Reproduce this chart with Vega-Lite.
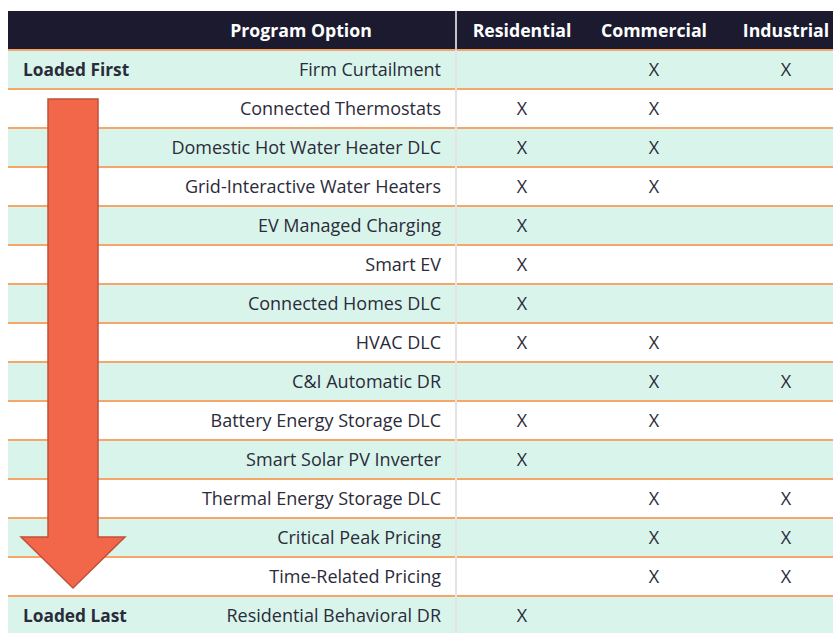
{
  "$schema": "https://vega.github.io/schema/vega-lite/v6.json",
  "width": 825,
  "height": 624,
  "padding": {"left": 8, "top": 11, "right": 0, "bottom": 0},
  "autosize": "none",
  "background": "white",
  "config": {"view": {"stroke": null}, "text": {"font": "Open Sans", "fontSize": 18, "color": "#2b2b3a", "dy": 1.5}},
  "datasets": {
    "rows": [
      {"order": 1, "program": "Firm Curtailment", "label": "Loaded First", "Residential": "", "Commercial": "X", "Industrial": "X"},
      {"order": 2, "program": "Connected Thermostats", "label": "", "Residential": "X", "Commercial": "X", "Industrial": ""},
      {"order": 3, "program": "Domestic Hot Water Heater DLC", "label": "", "Residential": "X", "Commercial": "X", "Industrial": ""},
      {"order": 4, "program": "Grid-Interactive Water Heaters", "label": "", "Residential": "X", "Commercial": "X", "Industrial": ""},
      {"order": 5, "program": "EV Managed Charging", "label": "", "Residential": "X", "Commercial": "", "Industrial": ""},
      {"order": 6, "program": "Smart EV", "label": "", "Residential": "X", "Commercial": "", "Industrial": ""},
      {"order": 7, "program": "Connected Homes DLC", "label": "", "Residential": "X", "Commercial": "", "Industrial": ""},
      {"order": 8, "program": "HVAC DLC", "label": "", "Residential": "X", "Commercial": "X", "Industrial": ""},
      {"order": 9, "program": "C&I Automatic DR", "label": "", "Residential": "", "Commercial": "X", "Industrial": "X"},
      {"order": 10, "program": "Battery Energy Storage DLC", "label": "", "Residential": "X", "Commercial": "X", "Industrial": ""},
      {"order": 11, "program": "Smart Solar PV Inverter", "label": "", "Residential": "X", "Commercial": "", "Industrial": ""},
      {"order": 12, "program": "Thermal Energy Storage DLC", "label": "", "Residential": "", "Commercial": "X", "Industrial": "X"},
      {"order": 13, "program": "Critical Peak Pricing", "label": "", "Residential": "", "Commercial": "X", "Industrial": "X"},
      {"order": 14, "program": "Time-Related Pricing", "label": "", "Residential": "", "Commercial": "X", "Industrial": "X"},
      {"order": 15, "program": "Residential Behavioral DR", "label": "Loaded Last", "Residential": "X", "Commercial": "", "Industrial": ""}
    ],
    "header": [
      {"program": "Program Option", "col": "Residential"},
      {"program": "Program Option", "col": "Commercial"},
      {"program": "Program Option", "col": "Industrial"}
    ]
  },
  "layer": [
    {
      "data": {"name": "rows"},
      "mark": {"type": "rect"},
      "encoding": {
        "y": {"field": "program", "type": "nominal", "axis": null, "sort": null,
          "scale": {"domain": ["Program Option", "Firm Curtailment", "Connected Thermostats", "Domestic Hot Water Heater DLC", "Grid-Interactive Water Heaters", "EV Managed Charging", "Smart EV", "Connected Homes DLC", "HVAC DLC", "C&I Automatic DR", "Battery Energy Storage DLC", "Smart Solar PV Inverter", "Thermal Energy Storage DLC", "Critical Peak Pricing", "Time-Related Pricing", "Residential Behavioral DR"], "range": [0, 624], "paddingInner": 0, "paddingOuter": 0}},
        "fill": {"condition": {"test": "datum.order % 2 === 1", "value": "#d9f5eb"}, "value": "#ffffff"}
      }
    },
    {
      "data": {"name": "header"},
      "mark": {"type": "rect", "fill": "#1b1a2f"},
      "encoding": {"y": {"field": "program", "type": "nominal"}}
    },
    {
      "data": {"name": "rows"},
      "mark": {"type": "rule", "color": "#f7a66a", "strokeWidth": 2},
      "encoding": {"y": {"field": "program", "type": "nominal", "bandPosition": 0}}
    },
    {
      "data": {"name": "header"},
      "transform": [{"filter": "datum.col === 'Residential'"}],
      "mark": {"type": "rule", "color": "#e4e4e4", "strokeWidth": 2},
      "encoding": {
        "x": {"field": "col", "type": "nominal", "bandPosition": 0, "axis": null,
          "scale": {"domain": ["Residential", "Commercial", "Industrial"], "range": [448, 844], "paddingInner": 0, "paddingOuter": 0}}
      }
    },
    {
      "data": {"name": "header"},
      "transform": [{"filter": "datum.col === 'Residential'"}],
      "mark": {"type": "rule", "color": "#c4c4c4", "strokeWidth": 2},
      "encoding": {
        "x": {"field": "col", "type": "nominal", "bandPosition": 0},
        "y": {"field": "program", "type": "nominal", "bandPosition": 0},
        "y2": {"value": 39}
      }
    },
    {
      "data": {"name": "header"},
      "transform": [{"filter": "datum.col === 'Residential'"}],
      "mark": {"type": "text", "text": "Program Option", "align": "center", "baseline": "middle", "dx": -155, "fontWeight": "bold", "color": "white", "fontSize": 17.7},
      "encoding": {
        "x": {"field": "col", "type": "nominal", "bandPosition": 0},
        "y": {"field": "program", "type": "nominal"}
      }
    },
    {
      "data": {"name": "header"},
      "mark": {"type": "text", "align": "center", "baseline": "middle", "fontWeight": "bold", "color": "white", "fontSize": 17.7},
      "encoding": {
        "x": {"field": "col", "type": "nominal"},
        "y": {"field": "program", "type": "nominal"},
        "text": {"field": "col"}
      }
    },
    {
      "data": {"name": "rows"},
      "mark": {"type": "text", "align": "right", "baseline": "middle", "dx": -15},
      "encoding": {
        "x": {"datum": "Residential", "type": "nominal", "bandPosition": 0},
        "y": {"field": "program", "type": "nominal"},
        "text": {"field": "program"}
      }
    },
    {
      "data": {"name": "rows"},
      "transform": [{"filter": "datum.label !== ''"}],
      "mark": {"type": "text", "align": "left", "baseline": "middle", "dx": -433, "fontWeight": "bold", "fontSize": 17.3},
      "encoding": {
        "x": {"datum": "Residential", "type": "nominal", "bandPosition": 0},
        "y": {"field": "program", "type": "nominal"},
        "text": {"field": "label"}
      }
    },
    {
      "data": {"name": "rows"},
      "transform": [
        {"fold": ["Residential", "Commercial", "Industrial"], "as": ["col", "mark"]},
        {"filter": "datum.mark === 'X'"}
      ],
      "mark": {"type": "text", "align": "center", "baseline": "middle"},
      "encoding": {
        "x": {"field": "col", "type": "nominal"},
        "y": {"field": "program", "type": "nominal"},
        "text": {"field": "mark"}
      }
    },
    {
      "data": {"values": [{"program": "Connected Thermostats", "col": "Residential"}]},
      "mark": {"type": "point", "filled": true, "size": 4, "opacity": 1, "fill": "#f26649", "fillOpacity": 1, "stroke": "#c0503a", "strokeWidth": 1.5,
        "shape": "M -408 10 L -358 10 L -358 448 L -331 448 L -383 499 L -435 448 L -408 448 Z"},
      "encoding": {
        "x": {"field": "col", "type": "nominal", "bandPosition": 0},
        "y": {"field": "program", "type": "nominal", "bandPosition": 0}
      }
    }
  ]
}
